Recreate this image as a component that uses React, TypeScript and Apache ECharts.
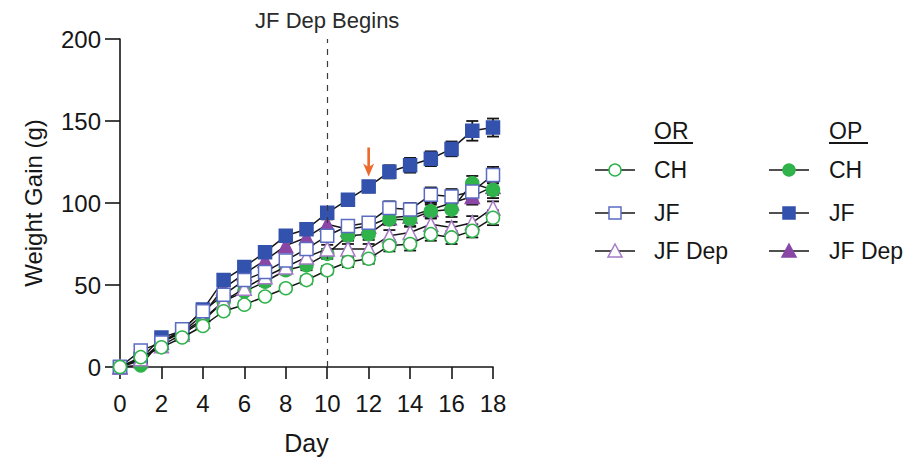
import React, { useEffect, useRef } from "react";
import * as echarts from "echarts";

const days = [0, 1, 2, 3, 4, 5, 6, 7, 8, 9, 10, 11, 12, 13, 14, 15, 16, 17, 18];
const xTicks = [0, 2, 4, 6, 8, 10, 12, 14, 16, 18];
const yTicks = [0, 50, 100, 150, 200];

// OR group
const orCH = [0, 6, 12, 18, 25, 34, 38, 43, 48, 53, 59, 64, 66, 74, 75, 81, 79, 83, 91];
const orJF = [0, 10, 15, 23, 34, 44, 53, 58, 65, 72, 80, 86, 88, 97, 96, 105, 104, 107, 117];
const orJFDep = [0, 5, 13, 20, 28, 40, 48, 55, 61, 67, 72, 72, 72, 80, 82, 87, 85, 88, 97];
// OP group
const opCH = [0, 1, 16, 21, 29, 40, 46, 52, 59, 62, 69, 80, 81, 90, 90, 95, 96, 112, 108];
const opJF = [0, 5, 18, 22, 35, 53, 61, 70, 80, 84, 94, 102, 110, 119, 123, 127, 133, 144, 146];
const opJFDep = [0, 4, 15, 21, 32, 48, 57, 65, 74, 79, 87, 84, 86, 91, 92, 96, 100, 104, 110];

// SEM (error bars)
const orCHErr = [0, 1, 1, 1.5, 1.5, 2, 2, 2, 2, 2.5, 2.5, 3, 3, 3.5, 4, 4, 4, 4, 4.5];
const orJFErr = [0, 1, 1, 1.5, 2, 2, 2.5, 2.5, 3, 3, 3, 3.5, 3.5, 4, 4, 4.5, 4.5, 5, 5];
const orJFDepErr = [0, 1, 1, 1.5, 1.5, 2, 2, 2, 2.5, 2.5, 2.5, 3, 3, 3.5, 3.5, 3.5, 3.5, 4, 4];
const opCHErr = [0, 1, 1, 1.5, 1.5, 2, 2, 2.5, 2.5, 3, 3, 3, 3.5, 3.5, 4, 4, 4.5, 4.5, 5];
const opJFErr = [0, 1, 1.5, 1.5, 2, 2.5, 2.5, 3, 3, 3, 3.5, 3.5, 3.5, 4, 4.5, 4.5, 4.5, 6, 5.5];
const opJFDepErr = [0, 1, 1, 1.5, 2, 2, 2.5, 2.5, 3, 3, 3, 3.5, 3.5, 4, 4, 4, 4.5, 5, 5];

const groups = ["OR", "OP"];
const rowLabels = ["CH", "JF", "JF Dep"];
const depDay = 10;
const arrowDay = 12;
const arrowValue = 125;

const FONT = '"Liberation Sans", Arial, Helvetica, sans-serif';
const INK = "#161616";

const GREEN = "#2fb34a";
const BLUE = "#3352ad";
const BLUE_LIGHT = "#5a6cc2";
const PURPLE = "#8a47a6";
const PURPLE_LIGHT = "#a57bc6";

type Def = {
  name: string;
  values: number[];
  err: number[];
  symbol: string;
  size: number;
  fill: string;
  stroke: string;
};

const defs: Def[] = [
  { name: "OP JF Dep", values: opJFDep, err: opJFDepErr, symbol: "triangle", size: 14, fill: PURPLE, stroke: PURPLE },
  { name: "OP CH", values: opCH, err: opCHErr, symbol: "circle", size: 13, fill: GREEN, stroke: GREEN },
  { name: "OP JF", values: opJF, err: opJFErr, symbol: "rect", size: 13, fill: BLUE, stroke: BLUE },
  { name: "OR JF Dep", values: orJFDep, err: orJFDepErr, symbol: "triangle", size: 14, fill: "#ffffff", stroke: PURPLE_LIGHT },
  { name: "OR JF", values: orJF, err: orJFErr, symbol: "rect", size: 13, fill: "#ffffff", stroke: BLUE_LIGHT },
  { name: "OR CH", values: orCH, err: orCHErr, symbol: "circle", size: 13, fill: "#ffffff", stroke: GREEN },
];

function errRender(params: any, api: any) {
  const x = api.value(0);
  const y = api.value(1);
  const e = api.value(2);
  const top = api.coord([x, y + e]);
  const bot = api.coord([x, y - e]);
  const w = 6;
  const st = { stroke: INK, lineWidth: 1.8 };
  return {
    type: "group",
    children: [
      { type: "line", shape: { x1: top[0], y1: top[1], x2: bot[0], y2: bot[1] }, style: st },
      { type: "line", shape: { x1: top[0] - w, y1: top[1], x2: top[0] + w, y2: top[1] }, style: st },
      { type: "line", shape: { x1: bot[0] - w, y1: bot[1], x2: bot[0] + w, y2: bot[1] }, style: st },
    ],
  };
}

function legendMarker(kind: string, cx: number, cy: number, fill: string, stroke: string) {
  const style = { fill, stroke, lineWidth: 1.5 };
  if (kind === "circle") return { type: "circle", shape: { cx, cy, r: 6 }, style };
  if (kind === "rect") return { type: "rect", shape: { x: cx - 6, y: cy - 6, width: 12, height: 12 }, style };
  return { type: "polygon", shape: { points: [[cx, cy - 7], [cx + 7, cy + 6], [cx - 7, cy + 6]] }, style };
}

function buildLegend() {
  const els: any[] = [];
  const colX = [615, 789];
  const textX = [654, 829];
  const rowY = [170, 213, 251];
  groups.forEach((g, gi) => {
    els.push({
      type: "text",
      x: textX[gi],
      y: 131,
      style: { text: g, fontSize: 23, fontFamily: FONT, fill: INK, verticalAlign: "middle", align: "left" },
    });
    els.push({
      type: "line",
      shape: { x1: textX[gi], y1: 143, x2: textX[gi] + 39, y2: 143 },
      style: { stroke: INK, lineWidth: 1.8 },
    });
    rowLabels.forEach((lab, ri) => {
      const d = defs.find((s) => s.name === `${g} ${lab}`)!;
      const cx = colX[gi];
      const cy = rowY[ri];
      els.push({ type: "line", shape: { x1: cx - 20, y1: cy, x2: cx + 20, y2: cy }, style: { stroke: INK, lineWidth: 1.5 } });
      els.push(legendMarker(d.symbol, cx, cy, d.fill, d.stroke));
      els.push({
        type: "text",
        x: textX[gi],
        y: cy,
        style: { text: lab, fontSize: 23, fontFamily: FONT, fill: INK, verticalAlign: "middle", align: "left" },
      });
    });
  });
  return els;
}

export default function App() {
  const ref = useRef<HTMLDivElement>(null);
  useEffect(() => {
    if (!ref.current) return;
    const chart = echarts.init(ref.current, undefined, { renderer: "svg" });

    const errSeries = defs.map((d) => ({
      type: "custom",
      name: d.name + " err",
      renderItem: errRender,
      encode: { x: 0, y: 1 },
      data: days.map((day, i) => [day, d.values[i], d.err[i]]),
      z: 1,
      silent: true,
    }));

    const lineSeries = defs.map((d, idx) => {
      const s: any = {
        type: "line",
        name: d.name,
        data: days.map((day, i) => [day, d.values[i]]),
        symbol: d.symbol,
        symbolSize: d.size,
        showAllSymbol: true,
        lineStyle: { color: INK, width: 1.5 },
        itemStyle: { color: d.fill, borderColor: d.stroke, borderWidth: 1.5 },
        emphasis: { disabled: true },
        silent: true,
        z: 2 + idx,
      };
      if (d.name === "OP JF") {
        s.markPoint = {
          silent: true,
          data: [
            {
              coord: [arrowDay, arrowValue],
              symbol: "path://M3.8,0 L6.2,0 L6.2,18 L10,15.5 L5,28 L0,15.5 L3.8,18 Z",
              symbolSize: [11, 29],
              itemStyle: { color: "#ec6a2c", borderWidth: 0 },
              label: { show: false },
            },
          ],
        };
      }
      if (idx === 0) {
        s.markLine = {
          silent: true,
          symbol: ["none", "none"],
          data: [{ xAxis: depDay }],
          lineStyle: { type: [6, 6], color: "#3a3a3a", width: 1.2 },
          label: {
            show: true,
            position: "end",
            formatter: "JF Dep Begins",
            fontSize: 22,
            fontFamily: FONT,
            color: "#2a2a2a",
            distance: 8,
          },
        };
      }
      return s;
    });

    chart.setOption({
      animation: false,
      backgroundColor: "#ffffff",
      textStyle: { fontFamily: FONT },
      grid: { left: 120, right: 428, top: 39, bottom: 93, outerBoundsMode: "none", containLabel: false },
      xAxis: {
        type: "value",
        min: xTicks[0],
        max: xTicks[xTicks.length - 1],
        interval: 2,
        name: "Day",
        nameLocation: "middle",
        nameGap: 63,
        nameTextStyle: { fontSize: 25, color: INK, fontFamily: FONT },
        axisLine: { lineStyle: { color: INK, width: 1.6 } },
        axisTick: { show: true, length: 12, lineStyle: { color: INK, width: 1.6 } },
        axisLabel: { fontSize: 24, color: INK, margin: 24, fontFamily: FONT },
        splitLine: { show: false },
      },
      yAxis: {
        type: "value",
        min: yTicks[0],
        max: yTicks[yTicks.length - 1],
        interval: 50,
        name: "Weight Gain (g)",
        nameLocation: "middle",
        nameGap: 75,
        nameRotate: 90,
        nameTextStyle: { fontSize: 24, color: INK, fontFamily: FONT },
        axisLine: { show: true, lineStyle: { color: INK, width: 1.6 } },
        axisTick: { show: true, length: 15, lineStyle: { color: INK, width: 1.6 } },
        axisLabel: { fontSize: 24, color: INK, margin: 19, fontFamily: FONT },
        splitLine: { show: false },
      },
      series: [...errSeries, ...lineSeries],
      graphic: buildLegend(),
    });
    return () => chart.dispose();
  }, []);
  return (
    <div
      ref={ref}
      style={{ position: "fixed", left: 0, top: 0, width: 921, height: 460, background: "#fff" }}
    />
  );
}
